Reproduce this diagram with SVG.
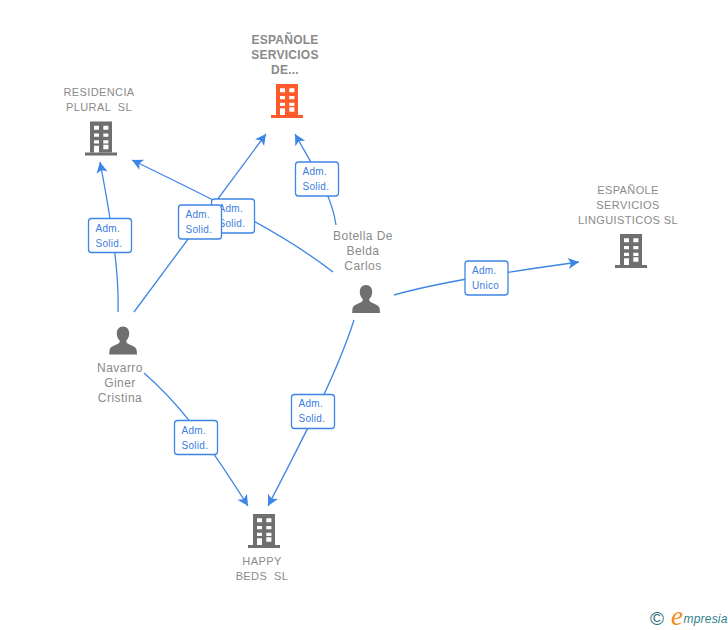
<svg xmlns="http://www.w3.org/2000/svg" width="728" height="630" viewBox="0 0 728 630">
<style>
text{font-family:"Liberation Sans",Arial,sans-serif;white-space:pre}
.n{font-size:11px;fill:#8a8a8a;text-anchor:middle;letter-spacing:.4px}
.p{font-size:12px;letter-spacing:.45px}
.b{font-weight:bold;font-size:12px;letter-spacing:.25px}
.l{font-size:10px;fill:#3a7ce0;letter-spacing:.3px}
.c{fill:none;stroke:#3d85e6;stroke-width:1.3;marker-end:url(#a)}
.box{fill:#fff;stroke:#3d85e6;stroke-width:1.3}
</style>
<defs>
<marker id="a" markerUnits="userSpaceOnUse" markerWidth="13" markerHeight="13" refX="11" refY="6" orient="auto" viewBox="0 0 12 12"><path d="M11 6 1 .8 3.500 6 1 11.200z" fill="#3d85e6"/></marker>
<g id="bld"><path fill-rule="evenodd" d="M5 0H27V31H5zM9 4.300V8.300H14V4.300zM18.300 4.300V8.300H23.400V4.300zM9 12V15.300H14V12zM18.300 12V15.300H23.400V12zM9 18.700V22H14V18.700zM18.300 18.700V22H23.400V18.700zM9 24.300V31H14V24.300zM18.300 23.300V27.700H23.400V23.300z"/><rect y="31" width="32" height="3"/></g>
<path id="per" d="M14 0C10 0 7.800 3 7.800 7C7.800 10 9 12.500 10.700 14C11 16 10 17 7 18.300C3 20 .8 20.800 .5 24C.3 25.500 .2 27 .2 28H28C28 27 27.900 25.500 27.700 24C27.300 20.800 25 20 21 18.300C18 17 17 16 17.300 14C19 12.500 20.200 10 20.200 7C20.200 3 18 0 14 0z" fill="#6f6f6f"/>
</defs>
<rect width="728" height="630" fill="#fff"/>
<g id="connectors">
<path class="c" d="M118 312C119 280 115 240 100 162"/>
<path class="c" d="M134 312C178 253 222 193 266 134"/>
<path class="c" d="M333 272C285 235 235 210 132 160"/>
<path class="c" d="M336 225C332 196 315 170 295 134"/>
<path class="c" d="M394 295C440 282 500 273 579 262"/>
<path class="c" d="M354 320C338 370 310 425 268 506"/>
<path class="c" d="M144 373C175 400 200 430 248 506"/>
</g>
<g id="node-residencia">
<text class="n" x="99" y="96">RESIDENCIA</text><text class="n" x="99" y="111">PLURAL  SL</text>
<use href="#bld" x="85" y="121.500" fill="#6f6f6f"/>
</g>
<g id="node-espanole-de">
<text class="n b" x="285" y="44">ESPAÑOLE</text><text class="n b" x="285" y="59">SERVICIOS</text><text class="n b" x="285" y="74">DE...</text>
<use href="#bld" x="271" y="84" fill="#ff5a2b"/>
</g>
<g id="node-linguisticos">
<text class="n" x="628" y="194">ESPAÑOLE</text><text class="n" x="628" y="209">SERVICIOS</text><text class="n" x="628" y="224">LINGUISTICOS SL</text>
<use href="#bld" x="615" y="234" fill="#6f6f6f"/>
</g>
<g id="node-happy">
<use href="#bld" x="248" y="514" fill="#6f6f6f"/>
<text class="n" x="262" y="565">HAPPY</text><text class="n" x="262" y="580">BEDS  SL</text>
</g>
<g id="node-botella">
<text class="n p" x="363" y="240">Botella De</text><text class="n p" x="363" y="255">Belda</text><text class="n p" x="363" y="270">Carlos</text>
<use href="#per" x="352" y="285"/>
</g>
<g id="node-navarro">
<use href="#per" x="109" y="326.500"/>
<text class="n p" x="120" y="372">Navarro</text><text class="n p" x="120" y="387">Giner</text><text class="n p" x="120" y="402">Cristina</text>
</g>
<g id="label-1"><rect class="box" x="88.500" y="218.500" width="43" height="34" rx="3"/><text class="l" x="95.500" y="232">Adm.</text><text class="l" x="95.500" y="247">Solid.</text></g>
<g id="label-2"><rect class="box" x="211.500" y="199" width="43" height="34" rx="3"/><text class="l" x="218.500" y="212">Adm.</text><text class="l" x="218.500" y="227">Solid.</text></g>
<g id="label-3"><rect class="box" x="178.500" y="205" width="43" height="34" rx="3"/><text class="l" x="185.500" y="218">Adm.</text><text class="l" x="185.500" y="233">Solid.</text></g>
<g id="label-4"><rect class="box" x="295.500" y="162" width="43" height="34" rx="3"/><text class="l" x="302.500" y="175">Adm.</text><text class="l" x="302.500" y="190">Solid.</text></g>
<g id="label-5"><rect class="box" x="465" y="261" width="43" height="34" rx="3"/><text class="l" x="472" y="274">Adm.</text><text class="l" x="472" y="289">Unico</text></g>
<g id="label-6"><rect class="box" x="291.500" y="394.500" width="43" height="34" rx="3"/><text class="l" x="298.500" y="407">Adm.</text><text class="l" x="298.500" y="422">Solid.</text></g>
<g id="label-7"><rect class="box" x="174.500" y="420.500" width="43" height="34" rx="3"/><text class="l" x="181.500" y="433.500">Adm.</text><text class="l" x="181.500" y="448.500">Solid.</text></g>
<g id="logo">
<text x="650" y="625" style="font-size:19px;fill:#2f6f80">©</text>
<text x="671" y="625" style="font-family:'Liberation Serif',serif;font-style:italic;font-size:27px;fill:#f28a1c">e</text>
<text x="683.500" y="623" style="font-size:12px;font-style:italic;fill:#2f7f8c;letter-spacing:.2px">mpresia</text>
</g>
</svg>
